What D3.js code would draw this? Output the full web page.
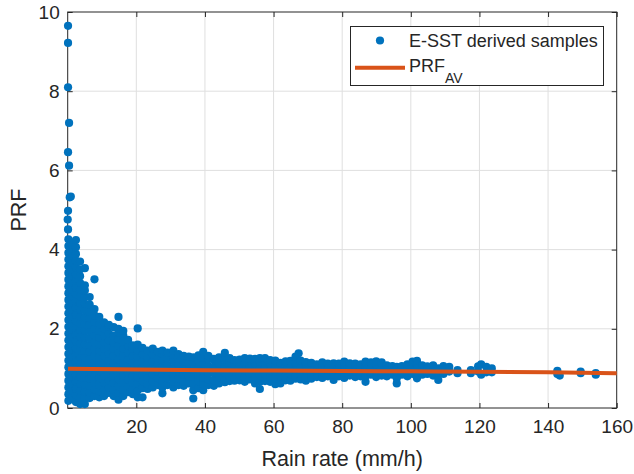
<!DOCTYPE html>
<html>
<head>
<meta charset="utf-8">
<script src="https://cdn.jsdelivr.net/npm/d3@7"></script>
<style>
  html, body { margin: 0; padding: 0; background: #fff; }
  svg { display: block; font-family: "Liberation Sans", Arial, Helvetica, sans-serif; }
</style>
</head>
<body>
<div id="chart"></div>
<script>
// E-SST derived samples, grouped by rain rate (mm/h) -> PRF values
const rainColumns = [
  0.2, 1.3, 2.4, 3.6, 5.0, 6.4, 7.8, 9.2, 10.6, 12.0, 13.4, 14.8, 16.2, 17.6, 19.0, 20.4,
  21.8, 23.3, 24.8, 26.3, 27.6, 29.1, 30.8, 32.3, 33.8, 35.3, 36.6, 38.1, 39.5, 41.0, 42.6,
  44.1, 45.8, 47.2, 48.6, 50.1, 51.6, 53.1, 54.6, 56.0, 57.5, 59.0, 60.5, 62.0, 63.5, 64.9,
  66.4, 67.3, 67.9, 69.4,
  71.0, 72.6, 74.2, 75.8, 77.5, 79.0, 80.6, 82.2, 83.8, 85.4, 86.8, 88.4, 89.9, 91.5, 93.0,
  94.6, 95.9, 97.4, 99.0, 100.5, 101.8, 103.3, 104.8, 106.5, 108.0, 109.5, 111.2, 113.6,
  117.5, 119.6, 120.5, 122.0, 123.6, 142.7, 143.4, 149.5, 153.9
];
const prfColumns = [
  [0.18,0.35,0.52,0.69,0.86,1.03,1.20,1.37,1.54,1.71,1.88,2.05,2.22,2.39,2.56,2.73,2.90,3.07,3.24,3.41,3.58,3.75,3.92,4.09,4.26],
  [0.27,0.44,0.61,0.78,0.95,1.12,1.29,1.46,1.63,1.80,1.97,2.14,2.31,2.48,2.65,2.82,2.99,3.16,3.33,3.50,3.67,3.84,4.01,4.12],
  [0.15,0.32,0.49,0.66,0.83,1.00,1.17,1.34,1.51,1.68,1.85,2.02,2.19,2.36,2.53,2.70,2.87,3.04,3.21,3.38,3.55,3.72,3.89,4.06,4.24],
  [0.10,0.27,0.44,0.61,0.78,0.95,1.12,1.29,1.46,1.63,1.80,1.97,2.14,2.31,2.48,2.65,2.82,2.99,3.16,3.33,3.50,3.70],
  [0.10,0.25,0.42,0.59,0.76,0.93,1.10,1.27,1.44,1.61,1.78,1.95,2.12,2.29,2.46,2.63,2.80,2.97,3.10,3.53],
  [0.25,0.40,0.57,0.74,0.91,1.08,1.25,1.42,1.59,1.76,1.93,2.10,2.27,2.44,2.61,2.80],
  [0.30,0.47,0.64,0.81,0.98,1.15,1.32,1.49,1.66,1.83,2.00,2.17,2.34,2.50,3.25],
  [0.27,0.42,0.59,0.76,0.93,1.10,1.27,1.44,1.61,1.78,1.95,2.12,2.30],
  [0.30,0.47,0.64,0.81,0.98,1.15,1.32,1.49,1.66,1.83,2.00,2.16],
  [0.38,0.52,0.69,0.86,1.03,1.20,1.37,1.54,1.71,1.88,2.05,2.10],
  [0.30,0.47,0.64,0.81,0.98,1.15,1.32,1.49,1.66,1.83,2.04],
  [0.21,0.38,0.55,0.72,0.89,1.06,1.23,1.40,1.57,1.74,1.91,2.00,2.30],
  [0.30,0.47,0.64,0.81,0.98,1.15,1.32,1.49,1.66,1.83,1.95],
  [0.40,0.55,0.72,0.89,1.06,1.23,1.40,1.57,1.72],
  [0.35,0.47,0.64,0.81,0.98,1.15,1.32,1.49,1.58],
  [0.27,0.44,0.61,0.78,0.95,1.12,1.29,1.46,1.60,2.01],
  [0.27,0.50,0.67,0.84,1.01,1.18,1.35,1.52],
  [0.48,0.60,0.77,0.94,1.11,1.28,1.45],
  [0.52,0.67,0.84,1.01,1.18,1.35,1.50],
  [0.58,0.75,0.92,1.09,1.26,1.42],
  [0.37,0.52,0.69,0.86,1.03,1.20,1.37,1.45],
  [0.58,0.75,0.92,1.09,1.26,1.40],
  [0.52,0.67,0.84,1.01,1.18,1.35,1.45],
  [0.58,0.75,0.92,1.09,1.26,1.36],
  [0.56,0.67,0.84,1.01,1.18,1.32],
  [0.62,0.79,0.96,1.13,1.30],
  [0.24,0.45,0.62,0.79,0.96,1.13,1.28],
  [0.50,0.67,0.84,1.01,1.18,1.33],
  [0.45,0.60,0.77,0.94,1.11,1.28,1.42],
  [0.58,0.72,0.89,1.06,1.23,1.32],
  [0.56,0.70,0.87,1.04,1.21,1.24],
  [0.62,0.78,0.95,1.12,1.28],
  [0.65,0.72,0.89,1.06,1.23,1.39],
  [0.68,0.80,0.97,1.14,1.26],
  [0.69,0.75,0.92,1.09,1.21],
  [0.70,0.84,1.01,1.18,1.22],
  [0.66,0.78,0.95,1.12,1.26],
  [0.72,0.86,1.03,1.20,1.25],
  [0.62,0.78,0.95,1.12,1.24],
  [0.48,0.66,0.83,1.00,1.17,1.26],
  [0.68,0.85,1.02,1.19,1.26],
  [0.66,0.78,0.95,1.12,1.21],
  [0.60,0.74,0.91,1.08,1.20],
  [0.62,0.80,0.97,1.14],
  [0.70,0.78,0.95,1.12,1.18],
  [0.69,0.85,1.02,1.19],
  [0.74,0.80,0.97,1.14,1.30],
  [1.38],
  [0.72,0.86,1.03,1.20],
  [0.69,0.78,0.95,1.12,1.16],
  [0.74,0.88,1.05,1.14],
  [0.78,0.94,1.10],
  [0.76,0.90,1.06,1.15],
  [0.80,0.96,1.12],
  [0.71,0.85,1.01,1.13],
  [0.80,0.96,1.12],
  [0.76,0.90,1.06,1.17],
  [0.82,0.98,1.13],
  [0.78,0.93,1.09,1.12],
  [0.80,0.96,1.10],
  [0.66,0.80,0.94,1.08,1.17],
  [0.84,1.00,1.15],
  [0.78,0.94,1.10,1.18],
  [0.82,0.98,1.15],
  [0.80,0.95,1.08],
  [0.84,1.00,1.06],
  [0.62,0.75,0.90,1.04],
  [0.84,0.98,1.06],
  [0.80,0.95,1.10],
  [0.86,1.02,1.17],
  [0.75,0.90,1.06,1.19],
  [0.84,1.00,1.08],
  [0.86,1.00,1.05],
  [0.82,0.96,1.08],
  [0.71,0.86,1.00],
  [0.86,0.98,1.06],
  [0.92,1.04],
  [0.88,0.96],
  [0.88,0.96],
  [0.92,1.05],
  [0.84,1.10],
  [0.90,1.04],
  [0.90,1.00],
  [0.94,0.86],
  [0.82],
  [0.88,0.92],
  [0.84,0.88]
];
// isolated high PRF samples at very low rain rates
const outlierRain = [0.1, 0.1, 0.1, 0.4, 0.1, 0.4, 0.6, 0.9, 0.1, 0.0, 0.1];
const outlierPRF  = [9.65, 9.22, 8.10, 7.20, 6.46, 6.12, 5.32, 5.34, 4.98, 4.76, 4.51];

// PRF_AV curve
const avRain = [0.1, 20, 40, 60, 80, 100, 120, 140, 160];
const avPRF  = [0.99, 0.97, 0.955, 0.945, 0.935, 0.925, 0.915, 0.90, 0.878];

const xTicks = [20, 40, 60, 80, 100, 120, 140, 160];
const yTicks = [0, 2, 4, 6, 8, 10];

const W = 634, H = 474;
const margin = {top: 12, right: 17.3, bottom: 66, left: 67.7};
const iw = W - margin.left - margin.right;
const ih = H - margin.top - margin.bottom;

const blue = '#0072BD', orange = '#D95319', ink = '#262626', grid = '#dfdfdf';

const samples = [];
rainColumns.forEach((r, i) => prfColumns[i].forEach(p => samples.push([r, p])));
outlierRain.forEach((r, i) => samples.push([r, outlierPRF[i]]));

const x = d3.scaleLinear().domain([0, 160]).range([0, iw]);
const y = d3.scaleLinear().domain([0, 10]).range([ih, 0]);

const svg = d3.select('#chart').append('svg').attr('width', W).attr('height', H);
const g = svg.append('g').attr('transform', `translate(${margin.left},${margin.top})`);

// grid
g.append('g').selectAll('line').data(xTicks.filter(d => d < 160)).join('line')
  .attr('x1', d => x(d)).attr('x2', d => x(d)).attr('y1', 0).attr('y2', ih)
  .attr('stroke', grid).attr('stroke-width', 1);
g.append('g').selectAll('line').data(yTicks.filter(d => d > 0 && d < 10)).join('line')
  .attr('y1', d => y(d)).attr('y2', d => y(d)).attr('x1', 0).attr('x2', iw)
  .attr('stroke', grid).attr('stroke-width', 1);

// axes (ticks inward, box on)
const tl = 5;
const styleAxis = sel => {
  sel.select('.domain').remove();
  sel.selectAll('line').attr('stroke', ink);
  sel.selectAll('text').attr('fill', ink).style('font-size', '19px');
};
g.append('g').attr('transform', `translate(0,${ih})`)
  .call(d3.axisBottom(x).tickValues(xTicks).tickSizeInner(-tl).tickSizeOuter(0).tickPadding(12))
  .call(styleAxis);
g.append('g')
  .call(d3.axisTop(x).tickValues(xTicks).tickSizeInner(-tl).tickSizeOuter(0).tickFormat(''))
  .call(styleAxis);
g.append('g')
  .call(d3.axisLeft(y).tickValues(yTicks).tickSizeInner(-tl).tickSizeOuter(0).tickPadding(8))
  .call(styleAxis);
g.append('g').attr('transform', `translate(${iw},0)`)
  .call(d3.axisRight(y).tickValues(yTicks).tickSizeInner(-tl).tickSizeOuter(0).tickFormat(''))
  .call(styleAxis);
g.append('rect').attr('width', iw).attr('height', ih)
  .attr('fill', 'none').attr('stroke', ink).attr('stroke-width', 1);

// samples
g.append('g').selectAll('circle').data(samples).join('circle')
  .attr('cx', d => x(d[0])).attr('cy', d => y(d[1])).attr('r', 4.1)
  .attr('fill', blue);

// PRF_AV
const line = d3.line().curve(d3.curveMonotoneX).x(d => x(d[0])).y(d => y(d[1]));
g.append('path').datum(avRain.map((r, i) => [r, avPRF[i]]))
  .attr('d', line).attr('fill', 'none').attr('stroke', orange).attr('stroke-width', 4);

// axis labels
svg.append('text').attr('x', margin.left + iw / 2).attr('y', 466)
  .attr('text-anchor', 'middle').attr('fill', ink).style('font-size', '21.5px')
  .text('Rain rate (mm/h)');
svg.append('text').attr('transform', `translate(26,${margin.top + ih / 2}) rotate(-90)`)
  .attr('text-anchor', 'middle').attr('fill', ink).style('font-size', '21.5px')
  .text('PRF');

// legend
const lg = svg.append('g');
lg.append('rect').attr('x', 350.5).attr('y', 26.5).attr('width', 253).attr('height', 59)
  .attr('fill', '#fff').attr('stroke', ink).attr('stroke-width', 1);
lg.append('circle').attr('cx', 380).attr('cy', 40.5).attr('r', 4.1).attr('fill', blue);
lg.append('line').attr('x1', 355).attr('x2', 405).attr('y1', 67.7).attr('y2', 67.7)
  .attr('stroke', orange).attr('stroke-width', 4);
lg.append('text').attr('x', 409).attr('y', 46.5).attr('fill', ink).style('font-size', '18px')
  .text('E-SST derived samples');
const t2 = lg.append('text').attr('x', 409).attr('y', 71.5).attr('fill', ink).style('font-size', '18px');
t2.append('tspan').text('PRF');
t2.append('tspan').attr('dy', 11).style('font-size', '14px').text('AV');
</script>
</body>
</html>
